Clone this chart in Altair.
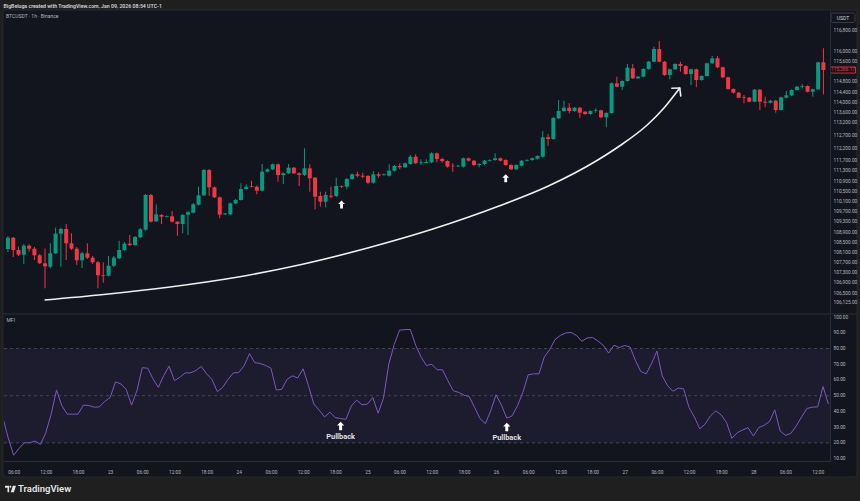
import altair as alt
import pandas as pd

# ---------------- data ----------------
opens = [108232,108676,108193,108008,108362,108244,107985,107670,107537,108063,108833,109018,108456,108244,107788,108063,
         107890,107710,107199,107183,107576,107867,108193,108441,108389,108692,108991,110354,109321,109569,109502,109518,
         109305,109215,109580,109659,109973,110343,111337,110657,110264,109596,109596,110028,110158,110590,110708,110680,
         110523,111270,111364,111561,111140,111207,111427,111207,111140,111404,111035,110315,110091,110327,110315,110696,
         110680,110983,111168,111113,111101,110838,111168,111140,111113,111310,111494,111443,111573,111860,111612,111612,
         111640,111993,111769,111691,111506,111482,111467,111797,111703,111533,111573,111703,111730,111797,111730,111533,
         111364,111506,111703,111730,111781,111860,112622,112555,113369,113656,113785,113656,113785,113628,113538,113668,
         113683,113408,113577,114744,114611,114835,115334,114941,115004,115306,115593,116092,115593,115071,115295,115503,
         115424,115110,115295,114874,115031,115530,115727,115373,114980,114520,114375,114194,114178,114021,114493,114021,
         113982,114061,113695,114178,114273,114481,114611,114638,114414,114508,115570]
highs = [108743,108704,108323,108429,108417,108311,108036,108244,108456,109069,109069,109215,108849,108311,108114,108456,
         107957,107761,107710,107957,107957,108559,108507,108783,108743,109058,110394,110394,109989,109608,109549,109726,
         109333,109608,109726,110040,110680,111376,111376,110688,110295,109647,110060,110197,110814,110775,110917,110727,
         111573,111396,111592,111592,111239,111573,111455,111239,112190,111561,111062,110484,110484,110680,111035,110727,
         111023,111199,111270,111231,111140,111298,111247,111199,111561,111533,111600,111632,111927,111954,111758,111758,
         112033,112025,111820,111718,111600,111533,111828,111828,111730,111600,111730,111758,111993,111828,111758,111561,
         111561,111730,111758,111828,111915,112870,112752,113420,114088,114061,113958,113813,113813,113656,113683,113762,
         113707,113605,114776,115004,114862,115503,115503,115031,115334,115621,116183,116407,115621,115318,115530,115593,
         115452,115318,115318,115059,115554,115817,115817,115397,115004,114548,114402,114284,114206,114520,114520,114218,
         114088,114088,114218,114442,114508,114638,114717,114666,114532,115593,116120]
lows = [108114,107918,107957,107643,108126,107800,107643,106688,107474,108036,107537,107800,108193,107604,107486,107839,
        107643,106688,106908,107152,107525,107839,108154,108350,108350,108665,108959,109274,109293,109215,109470,109274,
        108755,108849,108783,109628,109942,110315,110327,110237,109439,109569,109569,110001,110138,110571,110649,110382,
        110492,111239,111337,110877,110787,111180,111180,110708,111101,110484,109793,109895,109871,110225,110276,110630,
        110578,110944,111050,111011,110775,110806,111035,111109,111081,111278,111364,111416,111541,111573,111533,111600,
        111612,111640,111624,111435,111270,111455,111435,111671,111494,111443,111541,111671,111699,111671,111502,111337,
        111337,111482,111671,111699,111758,111836,112280,112528,113341,113628,113565,113628,113392,113510,113510,113589,
        113381,113015,113550,114587,114481,114807,114913,114913,114980,115279,115570,115570,115043,114902,115267,115200,
        115082,114677,114587,114846,115004,115503,115346,114953,114493,114351,114155,113958,113998,113998,113695,113801,
        113958,113589,113668,114155,114245,114454,114548,114391,114218,114481,114312]
closes = [108676,108193,108008,108362,108244,107985,107670,107553,108063,108833,109018,108456,108244,107788,108063,107890,
          107710,107199,107171,107576,107890,108193,108441,108389,108704,109007,110354,109305,109596,109502,109529,109305,
          109215,109569,109675,109989,110343,111337,110657,110264,109580,109628,110028,110158,110590,110680,110680,110523,
          111270,111364,111561,111140,111207,111427,111207,111140,111404,111011,110288,110091,110354,110288,110708,110669,
          110983,111168,111113,111074,110838,111168,111113,111168,111310,111494,111443,111600,111860,111600,111640,111651,
          111993,111769,111691,111467,111482,111506,111797,111703,111533,111573,111703,111730,111797,111703,111533,111364,
          111533,111703,111730,111797,111887,112622,112555,113381,113656,113785,113656,113785,113589,113538,113656,113695,
          113408,113577,114744,114611,114835,115357,114941,115004,115306,115593,116092,115593,115071,115295,115503,115424,
          115110,115295,114874,115031,115530,115727,115373,114980,114520,114375,114178,114167,114021,114493,114021,113982,
          114061,113695,114194,114273,114481,114611,114638,114414,114508,115570,115266.17]
mfi_values = [36,23,12.2,16.5,20.1,20.1,21.2,19,26.5,38.3,53.6,43.6,38.3,38.3,38.3,44,43.8,42.7,42.9,46.4,48.9,58.8,57.5,
              54,44,53.2,67.8,67.5,60.7,55.3,62.8,68.8,59.6,61.7,64.5,64.5,66,68.6,63.9,60.3,52.6,55.3,60.4,64.5,64.7,
              69.2,76.7,71,70.5,69.2,67.5,53.6,54,60.4,62.6,61.3,67.1,56.4,44.7,40.8,36.5,39.5,36.1,35.5,35,43.4,47.2,
              44.2,44.7,48.9,38.9,48.5,70.3,82.5,91.7,92,92.1,82.1,74.6,69.2,70,66.5,66.5,59.6,53.2,52.1,50.4,49.4,
              42.5,35.5,32.2,40.4,50.6,44,35.7,37.2,43.6,52.1,63.3,63.9,63.9,74.6,79.3,85.7,88.3,89.9,90.2,88.3,84.6,
              86.7,87,84.8,82.1,77.1,82.1,80.6,81.9,81,72.4,65.4,63.9,70.3,78.4,62.6,56.4,52.8,54.9,54.3,42.5,36.5,29,
              31.9,37.2,40.4,37.8,32.9,22.9,26.5,28.2,29.7,24.4,29.7,31.2,33.5,41,27.6,24.8,26.1,30.8,36.5,41.9,42.7,
              42.9,55.8,44.7]
hours = list(range(4, 4 + len(opens)))   # hours since the 22nd, 00:00

price_ticks = [106125, 106500, 106900, 107300, 107700, 108100, 108500, 108900, 109300, 109700, 110100, 110500,
               110900, 111300, 111700, 112200, 112700, 113200, 113600, 114000, 114400, 114800, 115600, 116000, 116800]
mfi_ticks = [10, 20, 30, 40, 50, 60, 70, 80, 90, 100]
mfi_levels = [80, 50, 20]
time_ticks = list(range(6, 157, 6))
time_labels = ["06:00", "12:00", "18:00", "23", "06:00", "12:00", "18:00", "24", "06:00", "12:00", "18:00", "25",
               "06:00", "12:00", "18:00", "26", "06:00", "12:00", "18:00", "27", "06:00", "12:00", "18:00", "28",
               "06:00", "12:00"]

# hand-drawn curved arrow (hour, price)
curve_h = [10.92, 22.11, 34.61, 46.92, 59.42, 71.92, 84.24, 96.74, 106.07, 115.39, 119.49, 124.72, 127.89, 130.87]
curve_p = [106228, 106444, 106739, 107112, 107623, 108272, 109018, 109922, 110708, 111730, 112280, 113106, 113774, 114560]
head_h2 = [129.38, 131.06]
head_p2 = [114548, 114245]

pullback_h = [67, 98]
pullback_price = [109981, 111011]
pullback_mfi = [30.7, 30.1]

# ---------------- styling ----------------
OUTER = "#1f1f1f"
PANEL = "#12151d"
GRID = "#2a2e39"
TXT = "#b2b5be"
UP = "#089981"
DOWN = "#f23645"
PURPLE = "#7e57c2"
FONT = "Roboto"
W, H1, H2 = 826, 303, 146

df = pd.DataFrame({"h": hours, "open": opens, "high": highs, "low": lows, "close": closes, "mfi": mfi_values})
df["dir"] = ["up" if c >= o else "down" for o, c in zip(opens, closes)]

xs = alt.Scale(domain=[4.2, 158.3], nice=False, zero=False)
ps = alt.Scale(domain=[105717, 117625], nice=False, zero=False)
ms = alt.Scale(domain=[8.5, 101.3], nice=False, zero=False)
cs = alt.Scale(domain=["up", "down"], range=[UP, DOWN])

# one shared axis object per channel: every layer uses the same one so they merge
PRICE_AXIS = alt.Axis(orient="right", values=price_ticks, format=",.2f", title=None, labelColor=TXT,
                      labelFontSize=4.8, labelFont=FONT, ticks=False, grid=False, domainColor=GRID,
                      labelPadding=3, labelAlign="left", labelOverlap=False, labelFlush=False, zindex=1)
MFI_AXIS = alt.Axis(orient="right", values=mfi_ticks, format=".2f", title=None, labelColor=TXT,
                    labelFontSize=4.8, labelFont=FONT, ticks=False, grid=False, domainColor=GRID,
                    labelPadding=3, labelAlign="left", labelOverlap=False, labelFlush=False, zindex=1)
label_expr = "[" + ",".join(f"'{t}'" for t in time_labels) + "][(datum.value - 6) / 6]"
TIME_AXIS = alt.Axis(values=time_ticks, labelExpr=label_expr, title=None, labelColor=TXT, labelFontSize=4.8,
                     labelFont=FONT, ticks=False, grid=False, domainColor=GRID, labelPadding=8.5,
                     labelFlush=False, labelOverlap=False, zindex=1)

one = pd.DataFrame({"a": [0]})
base_one = alt.Chart(one)

# ---------- top (price) pane ----------
outer_rect = base_one.mark_rect(color=OUTER).encode(
    x=alt.value(-4), x2=alt.value(856), y=alt.value(-10), y2=alt.value(491))
panel_rect = base_one.mark_rect(color=PANEL, cornerRadius=3, stroke="#2b2f38", strokeWidth=0.8).encode(
    x=alt.value(-1), x2=alt.value(853), y=alt.value(0), y2=alt.value(467))
header = base_one.mark_text(text="BigBeluga created with TradingView.com, Jan 09, 2026 08:54 UTC-1",
                            align="left", baseline="middle", fontSize=5.2, fontWeight=600,
                            font=FONT, color="#d1d4dc").encode(x=alt.value(-0.5), y=alt.value(-4))
symbol_txt = base_one.mark_text(text="BTCUSDT · 1h · Binance", align="left", baseline="middle",
                                fontSize=5, font=FONT, color=TXT).encode(x=alt.value(2), y=alt.value(6))
usdt_box = base_one.mark_rect(fill=PANEL, stroke="#434651", strokeWidth=0.8, cornerRadius=2).encode(
    x=alt.value(827), x2=alt.value(851), y=alt.value(3), y2=alt.value(12.5))
usdt_txt = base_one.mark_text(text="USDT", align="center", baseline="middle", fontSize=5, font=FONT,
                              color="#d1d4dc").encode(x=alt.value(839), y=alt.value(7.8))
sep_rule = base_one.mark_rule(color=GRID, strokeWidth=1).encode(
    x=alt.value(-1), x2=alt.value(853), y=alt.value(304))

candles = alt.Chart(df)
wicks = candles.mark_rule(strokeWidth=1, clip=True).encode(
    x=alt.X("h:Q", scale=xs, axis=None),
    y=alt.Y("low:Q", scale=ps, axis=PRICE_AXIS),
    y2="high:Q",
    color=alt.Color("dir:N", scale=cs, legend=None))
bodies = candles.mark_bar(size=4, clip=True).encode(
    x=alt.X("h:Q", scale=xs, axis=None),
    y=alt.Y("open:Q", scale=ps, axis=PRICE_AXIS),
    y2="close:Q",
    color=alt.Color("dir:N", scale=cs, legend=None))

curve_df = pd.DataFrame({"h": curve_h, "p": curve_p})
curve = alt.Chart(curve_df).mark_line(color="#f0f0f0", strokeWidth=1.6, interpolate="monotone").encode(
    x=alt.X("h:Q", scale=xs, axis=None), y=alt.Y("p:Q", scale=ps, axis=PRICE_AXIS))
head_df = pd.DataFrame({"h1": [curve_h[-1]] * 2, "p1": [curve_p[-1]] * 2, "h2": head_h2, "p2": head_p2})
head = alt.Chart(head_df).mark_rule(color="#f0f0f0", strokeWidth=1.6, strokeCap="round").encode(
    x=alt.X("h1:Q", scale=xs, axis=None), x2="h2:Q",
    y=alt.Y("p1:Q", scale=ps, axis=PRICE_AXIS), y2="p2:Q")

ARROW = "M0,-1 L0.85,-0.15 L0.35,-0.15 L0.35,1 L-0.35,1 L-0.35,-0.15 L-0.85,-0.15 Z"
pb_df = pd.DataFrame({"h": pullback_h, "p": pullback_price, "m": pullback_mfi})
pb_top = alt.Chart(pb_df).mark_point(shape=ARROW, filled=True, size=64, color="white", opacity=1).encode(
    x=alt.X("h:Q", scale=xs, axis=None), y=alt.Y("p:Q", scale=ps, axis=PRICE_AXIS))

last_df = pd.DataFrame({"p": [closes[-1]], "lo": [closes[-1] - 120], "hi": [closes[-1] + 120],
                        "lbl": [f"{closes[-1]:,.2f}"]})
last_box = alt.Chart(last_df).mark_rect(fill=PANEL, stroke=DOWN, strokeWidth=0.8).encode(
    x=alt.value(826.5), x2=alt.value(851.5),
    y=alt.Y("lo:Q", scale=ps, axis=PRICE_AXIS), y2="hi:Q")
last_txt = alt.Chart(last_df).mark_text(fontSize=4.8, font=FONT, color=DOWN, align="center",
                                        baseline="middle").encode(
    x=alt.value(839), y=alt.Y("p:Q", scale=ps, axis=PRICE_AXIS), text="lbl:N")

top = alt.layer(outer_rect, panel_rect, header, symbol_txt, sep_rule, wicks, bodies, curve, head, pb_top,
                last_box, last_txt, usdt_box, usdt_txt).properties(width=W, height=H1)

# ---------- bottom (MFI) pane ----------
band_df = pd.DataFrame({"top": [mfi_levels[0]], "bot": [mfi_levels[-1]]})
band = alt.Chart(band_df).mark_rect(color=PURPLE, opacity=0.1).encode(
    x=alt.value(0), x2=alt.value(W), y=alt.Y("top:Q", scale=ms, axis=MFI_AXIS), y2="bot:Q")
lvl_df = pd.DataFrame({"v": mfi_levels})
levels = alt.Chart(lvl_df).mark_rule(color="#787b86", opacity=0.55, strokeDash=[3, 3], strokeWidth=0.8).encode(
    x=alt.value(0), x2=alt.value(W), y=alt.Y("v:Q", scale=ms, axis=MFI_AXIS))

mfi_line = alt.Chart(df).mark_line(color=PURPLE, strokeWidth=1, clip=True).encode(
    x=alt.X("h:Q", scale=xs, axis=TIME_AXIS),
    y=alt.Y("mfi:Q", scale=ms, axis=MFI_AXIS))
pb_bot = alt.Chart(pb_df).mark_point(shape=ARROW, filled=True, size=72, color="white", opacity=1).encode(
    x=alt.X("h:Q", scale=xs, axis=TIME_AXIS), y=alt.Y("m:Q", scale=ms, axis=MFI_AXIS))
pb_txt = alt.Chart(pb_df).mark_text(text="Pullback", dy=10.5, fontSize=7.4, fontWeight=600, font=FONT,
                                    color="#e8e8e8").encode(
    x=alt.X("h:Q", scale=xs, axis=TIME_AXIS), y=alt.Y("m:Q", scale=ms, axis=MFI_AXIS))
mfi_txt = base_one.mark_text(text="MFI", align="left", baseline="middle", fontSize=5, font=FONT,
                             color=TXT).encode(x=alt.value(2.5), y=alt.value(5))

LOGO = ("M-1,-0.6 L-0.25,-0.6 L-0.25,0.6 L-0.55,0.6 L-0.55,-0.25 L-1,-0.25 Z "
        "M-0.17,-0.4 A0.17,0.17 0 1,0 0.17,-0.4 A0.17,0.17 0 1,0 -0.17,-0.4 Z "
        "M0.42,-0.6 L1,-0.6 L0.62,0.6 L0.05,0.6 Z")
logo = base_one.mark_point(shape=LOGO, filled=True, size=121, color="#e6e6e6", opacity=1).encode(
    x=alt.value(6.5), y=alt.value(174))
brand = base_one.mark_text(text="TradingView", align="left", baseline="middle", fontSize=9.5, fontWeight=600,
                           font=FONT, color="#e6e6e6").encode(x=alt.value(14), y=alt.value(174))

bottom = alt.layer(band, levels, mfi_line, pb_bot, pb_txt, mfi_txt, logo, brand).properties(width=W, height=H2)

chart = alt.vconcat(top, bottom, spacing=2, bounds="flush").properties(
    background=OUTER, padding=0).configure_view(strokeWidth=0)

chart.save("out.html", embed_options={"renderer": "svg", "actions": False})
